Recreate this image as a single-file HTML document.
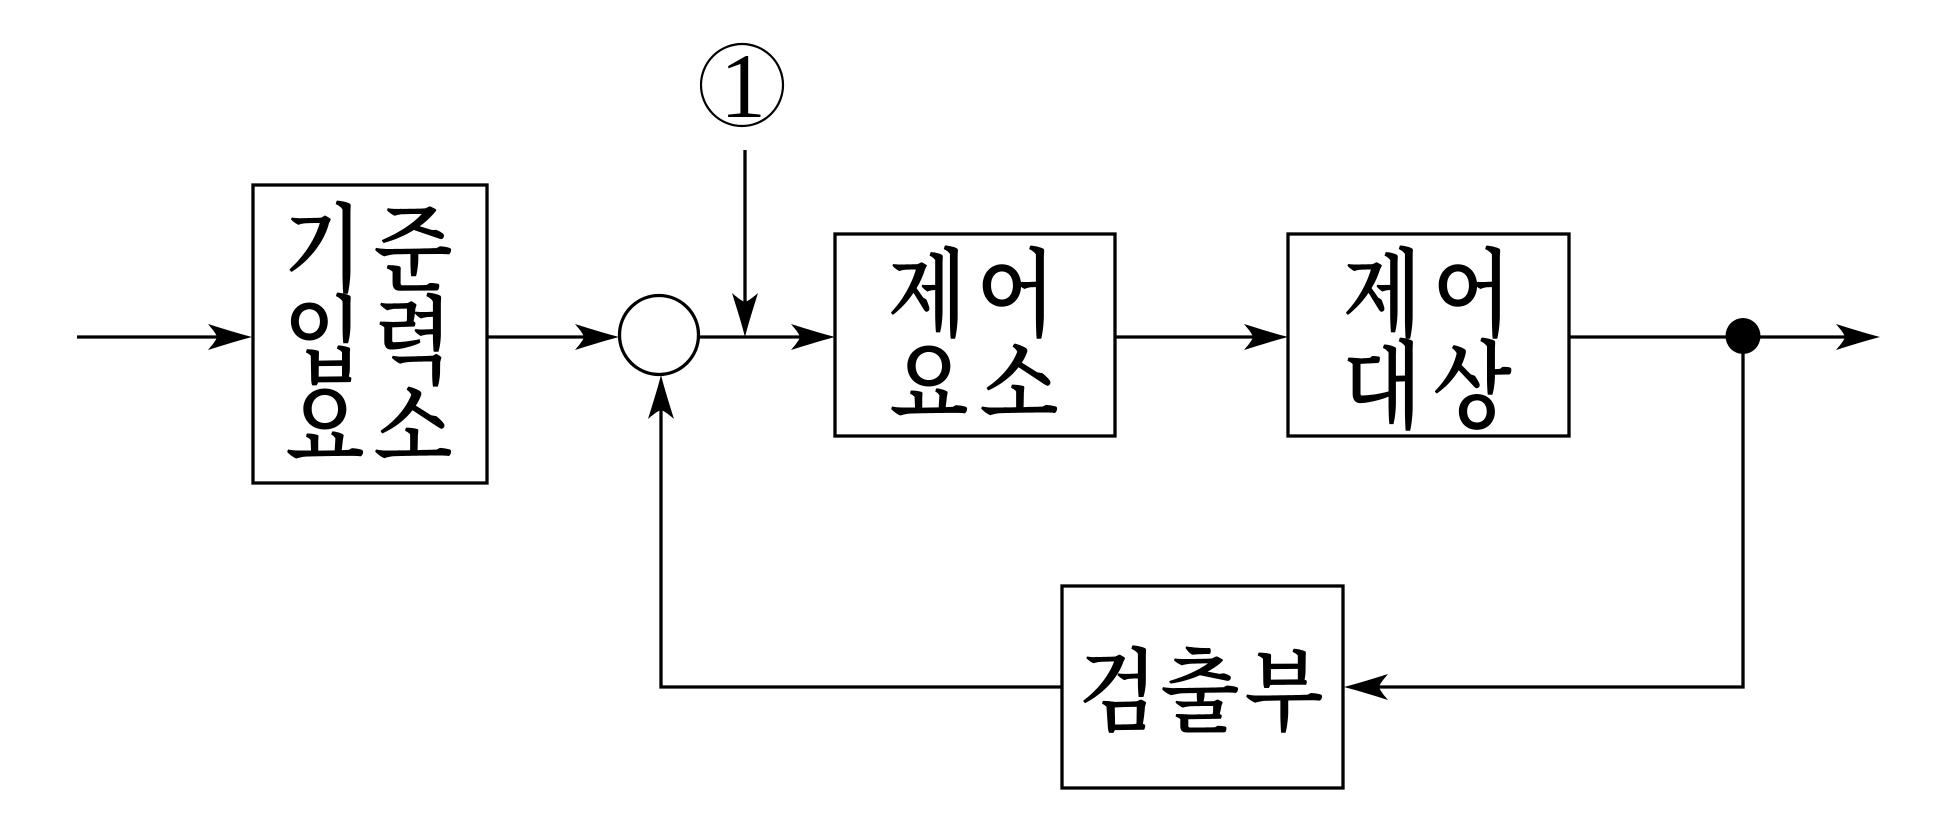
<!DOCTYPE html>
<html>
<head>
<meta charset="utf-8">
<style>
  html, body { margin:0; padding:0; background:#fff; }
  body { width:1949px; height:829px; overflow:hidden; }
  svg { display:block; }
  .k { font-family: "Noto Serif CJK SC", "Noto Serif CJK KR", "Noto Sans CJK KR", serif; font-size:82px; font-weight:600; fill:#000; }
</style>
</head>
<body>
<svg width="1949" height="829" viewBox="0 0 1949 829" xmlns="http://www.w3.org/2000/svg">
  <defs>
    <path id="ah" d="M0,0 C-12,-3 -28,-8 -44,-13 C-38,-6 -36,-3 -35,0 C-36,3 -38,6 -44,13 C-28,8 -12,3 0,0 Z" fill="#000"/>
  </defs>
  <g fill="none" stroke="#000" stroke-width="3.3">
    <!-- input -->
    <path d="M77,337 H230"/>
    <!-- box1 -->
    <rect x="253" y="185" width="234" height="298"/>
    <path d="M487,337 H600"/>
    <!-- summing circle -->
    <circle cx="659" cy="335" r="39.5"/>
    <path d="M698,337 H815"/>
    <!-- disturbance -->
    <path d="M745,150 V320"/>
    <circle cx="742" cy="85" r="41" stroke-width="2.2"/>
    <!-- box2 -->
    <rect x="835" y="234" width="280" height="202"/>
    <path d="M1115,337 H1265"/>
    <!-- box3 -->
    <rect x="1288" y="234" width="281" height="202"/>
    <path d="M1569,337 H1860"/>
    <!-- feedback -->
    <path d="M1743,337 V687 H1365"/>
    <rect x="1062" y="586" width="281" height="202"/>
    <path d="M1062,687 H661 V395"/>
  </g>
  <!-- arrowheads -->
  <use href="#ah" transform="translate(252,337)"/>
  <use href="#ah" transform="translate(619,337)"/>
  <use href="#ah" transform="translate(835,337)"/>
  <use href="#ah" transform="translate(745,337) rotate(90)"/>
  <use href="#ah" transform="translate(1288,337)"/>
  <use href="#ah" transform="translate(1880,337)"/>
  <use href="#ah" transform="translate(1344,687) rotate(180)"/>
  <use href="#ah" transform="translate(661,375) rotate(-90)"/>
  <!-- junction dot -->
  <ellipse cx="1743" cy="336" rx="17.5" ry="18" fill="#000"/>
  <!-- circled 1 -->
  <text x="743" y="117" font-family="Liberation Serif, serif" font-size="92" text-anchor="middle" fill="#000">1</text>

  <!-- box1 text -->
  <g class="k" text-anchor="middle">
    <text transform="translate(323,283) scale(1,1.17)">기</text>
    <text transform="translate(413,283) scale(1,1.17)">준</text>
    <text transform="translate(323,375) scale(1,1.17)">입</text>
    <text transform="translate(413,375) scale(1,1.17)">력</text>
    <text transform="translate(325,461) scale(1,1.17)">요</text>
    <text transform="translate(413,461) scale(1,1.17)">소</text>

    <!-- box2 -->
    <text transform="translate(927,328) scale(1,1.17)">제</text>
    <text transform="translate(1016,328) scale(1,1.17)">어</text>
    <text transform="translate(929,418) scale(1,1.17)">요</text>
    <text transform="translate(1019,418) scale(1,1.17)">소</text>

    <!-- box3 -->
    <text transform="translate(1382,328) scale(1,1.17)">제</text>
    <text transform="translate(1472,328) scale(1,1.17)">어</text>
    <text transform="translate(1382,420) scale(1,1.17)">대</text>
    <text transform="translate(1472,420) scale(1,1.17)">상</text>

    <!-- box4 -->
    <text transform="translate(1118,723) scale(1,1.1)">검</text>
    <text transform="translate(1200,723) scale(1,1.1)">출</text>
    <text transform="translate(1284,723) scale(1,1.1)">부</text>
  </g>
</svg>
</body>
</html>
